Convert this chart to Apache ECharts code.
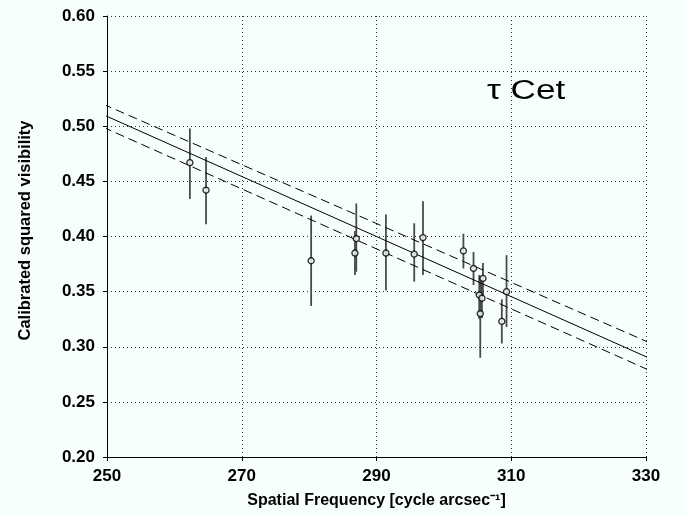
<!DOCTYPE html>
<html>
<head>
<meta charset="utf-8">
<script src="https://cdn.jsdelivr.net/npm/echarts@6/dist/echarts.min.js"></script>
<style>
html,body{margin:0;padding:0;background:#f7fefe;}
#chart{width:685px;height:515px;}
</style>
</head>
<body>
<div id="chart"></div>
<script>
// ---- data ----
var freq    = [262.3, 264.7, 280.3, 286.8, 287.0, 291.4, 295.6, 296.9, 302.9, 304.4, 305.8, 305.25, 305.65, 305.4, 308.6, 309.3];
var vis     = [0.467, 0.442, 0.378, 0.385, 0.398, 0.385, 0.384, 0.399, 0.387, 0.371, 0.362, 0.347, 0.344, 0.330, 0.323, 0.350];
var visLow  = [0.434, 0.411, 0.337, 0.365, 0.368, 0.351, 0.359, 0.365, 0.371, 0.356, 0.346, 0.325, 0.326, 0.290, 0.303, 0.318];
var visHigh = [0.498, 0.472, 0.419, 0.405, 0.430, 0.420, 0.412, 0.432, 0.4025, 0.386, 0.376, 0.365, 0.361, 0.364, 0.343, 0.383];
var fitX     = [249.4, 330.5];
var fitMid   = [0.5106, 0.2896];
var fitUpper = [0.5201, 0.3037];
var fitLower = [0.4992, 0.2786];
var xTicks = [250, 270, 290, 310, 330];
var yTicks = [0.20, 0.25, 0.30, 0.35, 0.40, 0.45, 0.50, 0.55, 0.60];

var chart = echarts.init(document.getElementById('chart'), null, {renderer:'canvas'});

function pairs(xs, ys){ return xs.map(function(x,i){ return [x, ys[i]]; }); }
var errData = freq.map(function(f,i){ return [f, visLow[i], visHigh[i]]; });

var fontFam = '"Liberation Sans", Arial, Helvetica, sans-serif';

var option = {
  backgroundColor: '#f7fefe',
  animation: false,
  grid: {left:107, right:39, top:16, bottom:58},
  xAxis: {
    type: 'value', min: xTicks[0], max: xTicks[xTicks.length-1], interval: 20,
    name: 'Spatial Frequency [cycle arcsec\u207B\u00B9]',
    nameLocation: 'middle', nameGap: 36,
    nameTextStyle: {fontFamily: fontFam, fontWeight: 'bold', fontSize: 16, color:'#000'},
    axisLine: {show:true, onZero:false, lineStyle:{color:'#000', width:1}},
    axisTick: {show:true, length:4, lineStyle:{color:'#000'}},
    axisLabel: {fontFamily: fontFam, fontWeight:'bold', fontSize:17, color:'#000', margin:11},
    splitLine: {show:true, lineStyle:{color:'#333', type:[1,3], width:1}}
  },
  yAxis: {
    type: 'value', min: 0.20, max: 0.60, interval: 0.05,
    name: 'Calibrated squared visibility',
    nameLocation: 'middle', nameGap: 73,
    nameTextStyle: {fontFamily: fontFam, fontWeight: 'bold', fontSize: 16.5, color:'#000', padding:[0,0,0,12]},
    axisLine: {show:true, onZero:false, lineStyle:{color:'#000', width:1}},
    axisTick: {show:true, length:4, lineStyle:{color:'#000'}},
    axisLabel: {fontFamily: fontFam, fontWeight:'bold', fontSize:17, color:'#000', margin:12,
      formatter: function(v){ return v.toFixed(2); }},
    splitLine: {show:true, lineStyle:{color:'#333', type:[1,3], width:1}}
  },
  graphic: [{
    type:'text', x: 487, y: 78, scaleX: 1.3, scaleY: 1,
    style:{text:'\u03C4 Cet', font:'27px ' + fontFam, fill:'#000', align:'left', verticalAlign:'top'}
  }],
  series: [
    {type:'line', data: pairs(fitX, fitUpper), showSymbol:false, symbol:'none', clip:false,
      lineStyle:{color:'#000', width:1, type:[9,5]}},
    {type:'line', data: pairs(fitX, fitMid), showSymbol:false, symbol:'none', clip:false,
      lineStyle:{color:'#000', width:1}},
    {type:'line', data: pairs(fitX, fitLower), showSymbol:false, symbol:'none', clip:false,
      lineStyle:{color:'#000', width:1, type:[9,5]}},
    {type:'custom', data: errData,
      encode:{x:0, y:[1,2]},
      renderItem: function(params, api){
        var x = api.value(0);
        var p1 = api.coord([x, api.value(1)]);
        var p2 = api.coord([x, api.value(2)]);
        return {type:'line', shape:{x1:p1[0], y1:p1[1], x2:p2[0], y2:p2[1]},
          style:{stroke:'#4a4a4a', lineWidth:1.8}};
      }, z: 3},
    {type:'scatter', data: pairs(freq, vis), symbol:'circle', symbolSize:6,
      itemStyle:{color:'#f7fefe', borderColor:'#000', borderWidth:1.4}, z: 4}
  ]
};
chart.setOption(option);
</script>
</body>
</html>
